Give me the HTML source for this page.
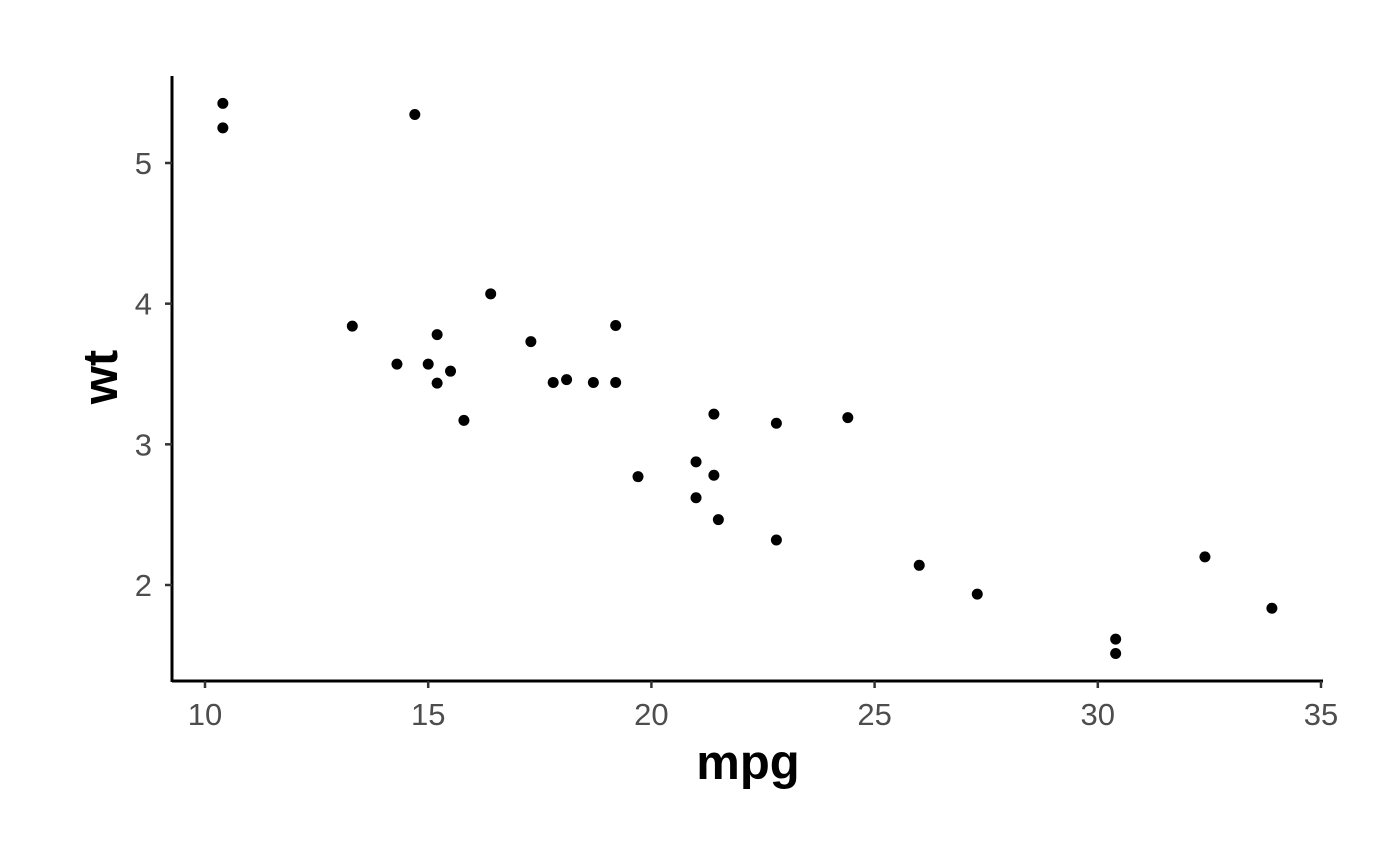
<!DOCTYPE html>
<html><head><meta charset="utf-8"><style>
html,body{margin:0;padding:0;background:#fff;}
svg{display:block;font-family:"Liberation Sans",Arial,sans-serif;}
</style></head><body>
<svg id="chart" width="1400" height="865" viewBox="0 0 1400 865">
<g id="axes"></g>
<g id="points"></g>
<text x="748" y="779" text-anchor="middle" font-size="49" font-weight="bold" fill="#000">mpg</text>
<text transform="translate(117,377) rotate(-90)" text-anchor="middle" font-size="49" font-weight="bold" fill="#000">wt</text>
</svg>
<script>
const mpg=[21.0,21.0,22.8,21.4,18.7,18.1,14.3,24.4,22.8,19.2,17.8,16.4,17.3,15.2,10.4,10.4,14.7,32.4,30.4,33.9,21.5,15.5,15.2,13.3,19.2,27.3,26.0,30.4,15.8,19.7,15.0,21.4];
const wt=[2.620,2.875,2.320,3.215,3.440,3.460,3.570,3.190,3.150,3.440,3.440,4.070,3.730,3.780,5.250,5.424,5.345,2.200,1.615,1.835,2.465,3.520,3.435,3.840,3.845,1.935,2.140,1.513,3.170,2.770,3.570,2.780];
const xTicks=[10,15,20,25,30,35];
const yTicks=[2,3,4,5];
const NS="http://www.w3.org/2000/svg";
const xs=v=>205+(v-10)*(1321-205)/25;
const ys=v=>585-(v-2)*(585-163)/3;
function mk(tag,attrs,parent){const e=document.createElementNS(NS,tag);for(const k in attrs)e.setAttribute(k,attrs[k]);parent.appendChild(e);return e;}
const ax=document.getElementById('axes');
let l=mk('line',{x1:172,y1:681,x2:1323,y2:681,stroke:'#000','stroke-width':3},ax);


l=mk('line',{x1:172,y1:76,x2:172,y2:682,stroke:'#000','stroke-width':3},ax);


xTicks.forEach(t=>{
 const tk=mk('line',{x1:xs(t),y1:681,x2:xs(t),y2:688,stroke:'#333','stroke-width':2.5},ax);
 
 
 const tx=mk('text',{x:xs(t),y:725,'text-anchor':'middle','font-size':31,fill:'#4d4d4d'},ax);
 tx.textContent=t;
 
 
});
yTicks.forEach(t=>{
 const tk=mk('line',{x1:165,y1:ys(t),x2:172,y2:ys(t),stroke:'#333','stroke-width':2.5},ax);
 
 
 const tx=mk('text',{x:152,y:ys(t)+11,'text-anchor':'end','font-size':31,fill:'#4d4d4d'},ax);
 tx.textContent=t;
 
 
});
const pg=document.getElementById('points');
mpg.forEach((m,i)=>{
 const c=mk('circle',{cx:xs(m),cy:ys(wt[i]),r:5.5,fill:'#000'},pg);
 
 
});
</script>
</body></html>
